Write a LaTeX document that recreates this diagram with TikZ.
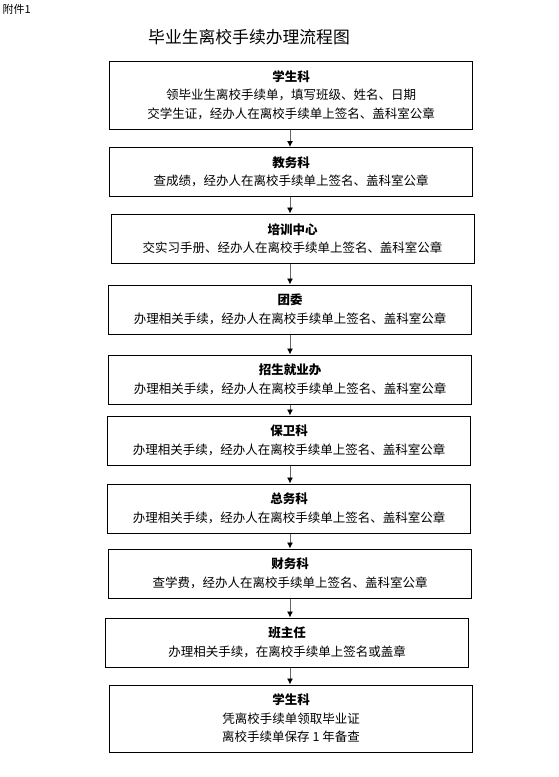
\documentclass[tikz,border=0pt]{standalone}
\usepackage{fontspec}
\setmainfont{Noto Sans CJK SC}
\usetikzlibrary{arrows.meta,positioning}

\begin{document}
\begin{tikzpicture}[x=1pt,y=-1pt,
  box/.style={draw, line width=1pt, minimum width=363pt, minimum height=49pt,
    align=center, inner sep=0pt, font=\fontsize{12.5}{18.5}\selectfont},
  flow/.style={-{Latex[length=6pt,width=6pt,black]}, line width=0.9pt, draw=black!60}]
\useasboundingbox (0,0) rectangle (559,777);

\node[anchor=west, font=\fontsize{11}{12}\selectfont] (fj) at (-1,9) {附件1};
\node[font=\fontsize{16.8}{18}\selectfont] (title) at (249,37) {毕业生离校手续办理流程图};

\node[box, minimum height=68pt] (xsk1) at (291,95)
  {\textbf{学生科}\\领毕业生离校手续单，填写班级、姓名、日期\\交学生证，经办人在离校手续单上签名、盖科室公章};
\node[box] (jwk) at (291,172) {\textbf{教务科}\\查成绩，经办人在离校手续单上签名、盖科室公章};
\node[box] (pxzx) at (292.5,238.5) {\textbf{培训中心}\\交实习手册、经办人在离校手续单上签名、盖科室公章};
\node[box] (tw) at (290,309.5) {\textbf{团委}\\办理相关手续，经办人在离校手续单上签名、盖科室公章};
\node[box] (zsjyb) at (290,379.5) {\textbf{招生就业办}\\办理相关手续，经办人在离校手续单上签名、盖科室公章};
\node[box] (bwk) at (289,440.5) {\textbf{保卫科}\\办理相关手续，经办人在离校手续单上签名、盖科室公章};
\node[box] (zwk) at (289,508.5) {\textbf{总务科}\\办理相关手续，经办人在离校手续单上签名、盖科室公章};
\node[box] (cwk) at (290,573.5) {\textbf{财务科}\\查学费，经办人在离校手续单上签名、盖科室公章};
\node[box] (bzr) at (287,642.5) {\textbf{班主任}\\办理相关手续，在离校手续单上签名或盖章};
\node[box, minimum height=67pt] (xsk2) at (291,718.5)
  {\textbf{学生科}\\凭离校手续单领取毕业证\\离校手续单保存 1 年备查};

\draw[flow] (xsk1.south -| 290,0) -- (jwk.north -| 290,0);
\draw[flow] (jwk.south -| 290,0) -- (pxzx.north -| 290,0);
\draw[flow] (pxzx.south -| 290,0) -- (tw.north -| 290,0);
\draw[flow] (tw.south -| 290,0) -- (zsjyb.north -| 290,0);
\draw[flow] (zsjyb.south -| 290,0) -- (bwk.north -| 290,0);
\draw[flow] (bwk.south -| 290,0) -- (zwk.north -| 290,0);
\draw[flow] (zwk.south -| 290,0) -- (cwk.north -| 290,0);
\draw[flow] (cwk.south -| 290,0) -- (bzr.north -| 290,0);
\draw[flow] (bzr.south -| 290,0) -- (xsk2.north -| 290,0);
\end{tikzpicture}
\end{document}
